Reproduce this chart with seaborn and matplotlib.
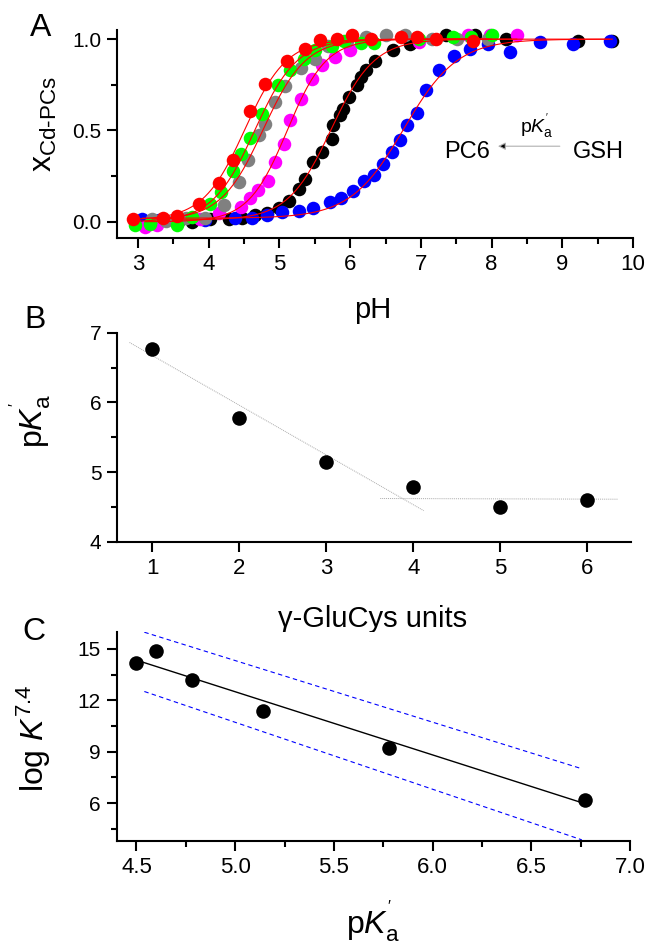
import matplotlib

matplotlib.use("Agg")

import matplotlib.pyplot as plt
import numpy as np
import pandas as pd
import seaborn as sns
from matplotlib.ticker import MultipleLocator

# ---- panel A: titration data (fraction Cd-bound vs pH) ----
gsh_ph = [3.06, 3.30, 3.95, 4.37, 4.61, 4.82, 5.03, 5.27, 5.48, 5.72, 5.87, 6.04, 6.19, 6.34,
          6.46, 6.59, 6.70, 6.81, 6.94, 7.07, 7.26, 7.47, 7.70, 7.95, 8.26, 8.68, 9.15, 9.67]
gsh_x = [0.018, 0.010, 0.009, 0.022, 0.022, 0.040, 0.055, 0.058, 0.077, 0.109, 0.128, 0.169, 0.222, 0.259,
         0.319, 0.383, 0.446, 0.528, 0.597, 0.720, 0.829, 0.907, 0.947, 0.975, 0.929, 0.984, 0.975, 0.990]

pc2_ph = [3.57, 3.76, 4.02, 4.28, 4.47, 4.66, 4.82, 4.99, 5.13, 5.28, 5.36, 5.48, 5.60, 5.74, 5.76,
          5.86, 5.90, 5.98, 6.09, 6.16, 6.23, 6.35, 6.61, 6.85, 7.36, 7.76, 8.21, 9.22, 9.71]
pc2_x = [0.000, 0.000, 0.013, 0.018, 0.022, 0.036, 0.046, 0.077, 0.115, 0.179, 0.237, 0.328, 0.383, 0.455, 0.528,
         0.587, 0.616, 0.683, 0.747, 0.792, 0.829, 0.883, 0.938, 0.975, 1.020, 1.020, 1.000, 0.990, 0.990]

pc3_ph = [3.10, 3.27, 3.88, 4.14, 4.45, 4.59, 4.70, 4.84, 4.94, 5.06, 5.15, 5.30, 5.46, 5.60,
          5.79, 6.00, 6.98, 7.66, 7.98, 8.36]
pc3_x = [-0.027, -0.018, 0.013, 0.046, 0.082, 0.131, 0.173, 0.222, 0.328, 0.428, 0.559, 0.674, 0.780, 0.856,
         0.900, 0.940, 0.985, 1.020, 1.020, 1.020]

pc4_ph = [3.20, 3.39, 3.68, 3.95, 4.21, 4.43, 4.56, 4.71, 4.80, 4.94, 5.08, 5.31, 5.51, 5.69,
          5.95, 6.22, 6.51, 6.78, 7.16, 7.51, 7.95]
pc4_x = [0.018, 0.005, 0.022, 0.022, 0.091, 0.219, 0.337, 0.474, 0.537, 0.656, 0.741, 0.840, 0.890, 0.960,
         0.990, 1.010, 1.020, 1.020, 1.000, 1.000, 1.000]

pc6_ph = [2.96, 3.17, 3.55, 3.76, 4.02, 4.18, 4.35, 4.45, 4.59, 4.75, 4.98, 5.15, 5.35, 5.51,
          5.75, 5.92, 6.15, 6.34, 6.98, 7.45, 7.71, 8.00]
pc6_x = [-0.018, -0.010, -0.015, 0.027, 0.100, 0.164, 0.277, 0.373, 0.459, 0.592, 0.747, 0.829, 0.890, 0.940,
         0.960, 0.990, 0.980, 0.980, 1.000, 1.010, 1.010, 1.020]

pc5_ph = [2.93, 3.36, 3.55, 3.86, 4.14, 4.34, 4.59, 4.80, 5.10, 5.36, 5.57, 5.82, 6.02, 6.29,
          6.72, 6.95, 7.22, 7.74]
pc5_x = [0.017, 0.022, 0.033, 0.100, 0.215, 0.337, 0.605, 0.755, 0.880, 0.944, 0.995, 1.000, 1.020, 1.000,
         1.010, 1.010, 1.000, 0.990]

# drawing order: black, blue, magenta, gray, green, red
series_names = ["PC2", "GSH", "PC3", "PC4", "PC6", "PC5"]
series_ph = [pc2_ph, gsh_ph, pc3_ph, pc4_ph, pc6_ph, pc5_ph]
series_x = [pc2_x, gsh_x, pc3_x, pc4_x, pc6_x, pc5_x]
series_colors = ["black", "#0000ff", "#ff00ff", "#808080", "#00ff00", "#ff0000"]

# sigmoidal fit parameters (pKa', Hill slope, baseline) for the red fit curves
fit_pka = [5.73, 6.76, 5.11, 4.77, 4.65, 4.51]
fit_slope = [1.42, 1.15, 1.58, 1.45, 1.45, 1.47]
fit_base = [0.01, 0.02, 0.0, 0.01, 0.0, 0.01]

# ---- panel B: pKa' vs number of gamma-GluCys units ----
units = [1, 2, 3, 4, 5, 6]
pka_units = [6.77, 5.78, 5.14, 4.78, 4.50, 4.60]
trend1_x = [0.74, 4.12]
trend1_y = [6.86, 4.445]
trend2_x = [3.62, 6.35]
trend2_y = [4.62, 4.61]

# ---- panel C: log K(7.4) vs pKa' ----
pka_c = [4.50, 4.60, 4.78, 5.14, 5.78, 6.77]
logk = [14.20, 14.85, 13.20, 11.40, 9.20, 6.20]
fit_c_x = [4.50, 6.756]
fit_c_y = [14.34, 6.02]
band_x = [4.54, 6.756]
band_upper = [15.97, 8.00]
band_lower = [12.51, 3.85]

sns.set_style("ticks")
plt.rcParams["font.family"] = ["Liberation Sans", "DejaVu Sans"]
plt.rcParams["mathtext.fontset"] = "custom"
plt.rcParams["mathtext.rm"] = "Liberation Sans"
plt.rcParams["mathtext.it"] = "Liberation Sans:italic"
plt.rcParams["mathtext.bf"] = "Liberation Sans:bold"
for key in ("text.color", "axes.labelcolor", "xtick.color", "ytick.color", "axes.edgecolor"):
    plt.rcParams[key] = "black"

W, H = 649, 944
fig = plt.figure(figsize=(W / 100, H / 100), dpi=100)


def add_ax(left, right, top, bottom):
    return fig.add_axes([left / W, 1 - bottom / H, (right - left) / W, (bottom - top) / H])


axA = add_ax(117.5, 633, 30, 238.3)
axB = add_ax(117.3, 631, 332.7, 541.7)
axC = add_ax(116.7, 630, 631.7, 840.7)

for ax in (axA, axB, axC):
    sns.despine(ax=ax)
    for side in ("left", "bottom"):
        ax.spines[side].set_linewidth(1.5)
    ax.tick_params(which="major", direction="out", length=7.5, width=1.5, labelsize=15, pad=4)
    ax.tick_params(axis="x", which="major", labelsize=16)
    ax.tick_params(which="minor", direction="out", length=4, width=1.5)

# ---- A ----
for name, ph, xf, col in zip(series_names, series_ph, series_x, series_colors):
    sns.scatterplot(x=ph, y=xf, color=col, s=95, linewidth=0, ax=axA, zorder=2, clip_on=False)

for ph, pka, n, b in zip(series_ph, fit_pka, fit_slope, fit_base):
    grid = np.linspace(min(ph), max(ph), 200)
    curve = b + (1 - b) / (1 + 10 ** (n * (pka - grid)))
    sns.lineplot(x=grid, y=curve, color="#ff0000", lw=0.8, ax=axA, zorder=3)

axA.set_xlim(2.71, 10)
axA.set_ylim(-0.09, 1.05)
axA.set_xticks(range(3, 11))
axA.xaxis.set_minor_locator(MultipleLocator(0.5))
axA.set_yticks([0.0, 0.5, 1.0])
axA.set_yticklabels(["0.0", "0.5", "1.0"])
axA.yaxis.set_minor_locator(MultipleLocator(0.25))
axA.set_xlabel("pH", fontsize=21, va="baseline")
axA.xaxis.set_label_coords(0.4956, -0.383)
axA.set_ylabel("x$_{\\rm Cd\u2010PCs}$", fontsize=23, va="center")
axA.yaxis.set_label_coords(-0.143, 0.549)

axA.text(7.65, 0.383, "PC6", fontsize=17, ha="center", va="center")
axA.text(9.51, 0.383, "GSH", fontsize=17, ha="center", va="center")
axA.text(8.64, 0.519, "p$K_{\\rm a}^{\\rm '}$", fontsize=14, ha="center", va="center")
axA.annotate("", xy=(8.09, 0.414), xytext=(8.965, 0.414),
             arrowprops=dict(arrowstyle="-|>", ec="#b0b0b0", fc="black", lw=0.8,
                             mutation_scale=11, shrinkA=0, shrinkB=0))

# ---- B ----
sns.lineplot(x=trend1_x, y=trend1_y, color="#aaaaaa", lw=0.7, ls=(0, (1, 1)), ax=axB)
sns.lineplot(x=trend2_x, y=trend2_y, color="#aaaaaa", lw=0.7, ls=(0, (1, 1)), ax=axB)
sns.scatterplot(x=units, y=pka_units, color="black", s=110, linewidth=0, ax=axB, zorder=3)
axB.set_xlim(0.6, 6.5)
axB.set_ylim(4, 7)
axB.set_xticks(units)
axB.set_yticks([4, 5, 6, 7])
axB.yaxis.set_minor_locator(MultipleLocator(0.5))
axB.set_xlabel("\u03b3-GluCys units", fontsize=21, va="baseline")
axB.xaxis.set_label_coords(0.4978, -0.408)
axB.set_ylabel("p$K_{\\rm a}^{\\rm '}$", fontsize=23, va="center")
axB.yaxis.set_label_coords(-0.168, 0.577)

# ---- C ----
sns.lineplot(x=band_x, y=band_upper, color="#0000ff", lw=0.8, ls=(0, (4, 3)), ax=axC)
sns.lineplot(x=band_x, y=band_lower, color="#0000ff", lw=0.8, ls=(0, (4, 3)), ax=axC)
sns.lineplot(x=fit_c_x, y=fit_c_y, color="black", lw=1.0, ax=axC)
sns.scatterplot(x=pka_c, y=logk, color="black", s=110, linewidth=0, ax=axC, zorder=3, clip_on=False)
axC.set_xlim(4.4, 7.0)
axC.set_ylim(3.8, 16)
axC.set_xticks([4.5, 5.0, 5.5, 6.0, 6.5, 7.0])
axC.set_xticklabels(["4.5", "5.0", "5.5", "6.0", "6.5", "7.0"])
axC.xaxis.set_minor_locator(MultipleLocator(0.25))
axC.set_yticks([6, 9, 12, 15])
axC.yaxis.set_minor_locator(MultipleLocator(1.5))
axC.set_xlabel("p$K_{\\rm a}^{\\rm '}$", fontsize=23, va="baseline")
axC.xaxis.set_label_coords(0.499, -0.4416)
axC.set_ylabel("log $K^{7.4}$", fontsize=23, va="center")
axC.yaxis.set_label_coords(-0.162, 0.491)

# panel letters
for letter, (px, py) in zip("ABC", [(41, 28), (35, 320), (34, 632)]):
    fig.text(px / W, 1 - py / H, letter, fontsize=23, ha="center", va="center")

fig.savefig("out.png", dpi=100)
plt.close(fig)
